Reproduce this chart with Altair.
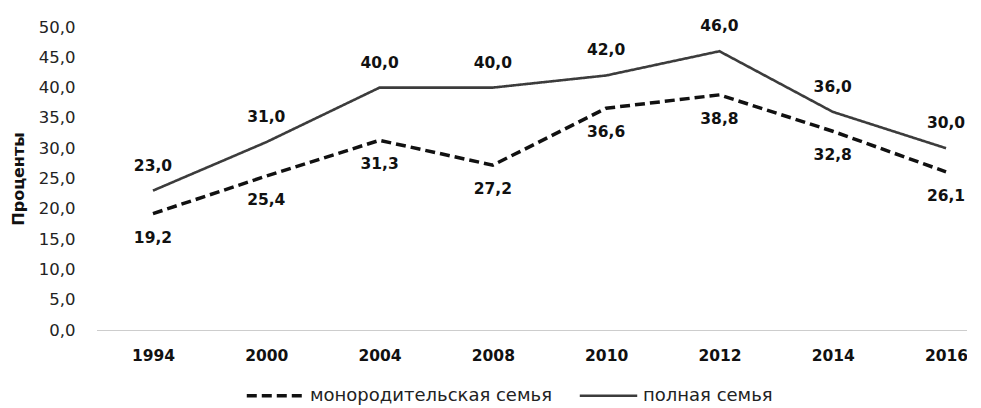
import altair as alt
import pandas as pd

years = ["1994", "2000", "2004", "2008", "2010", "2012", "2014", "2016"]
series_names = ["монородительская семья", "полная семья"]
single_parent = [19.2, 25.4, 31.3, 27.2, 36.6, 38.8, 32.8, 26.1]
full_family = [23.0, 31.0, 40.0, 40.0, 42.0, 46.0, 36.0, 30.0]

rows = []
for i, y in enumerate(years):
    rows.append({"idx": i, "year": y, "series": series_names[0], "value": single_parent[i]})
    rows.append({"idx": i, "year": y, "series": series_names[1], "value": full_family[i]})
df = pd.DataFrame(rows)

FONT = "DejaVu Sans"
year_arr = "[" + ",".join("'" + y + "'" for y in years) + "]"

x_enc = alt.X(
    "idx:Q",
    scale=alt.Scale(domain=[-0.494, 7.185], nice=False, zero=False),
    axis=alt.Axis(
        values=list(range(len(years))),
        labelExpr=year_arr + "[datum.value]",
        title=None,
        grid=False,
        ticks=False,
        domain=True,
        domainColor="#9a9a9a",
        domainDash=[1, 1],
        domainWidth=1,
        labelFont=FONT,
        labelFontSize=15.5,
        labelFontWeight="bold",
        labelColor="#111111",
        labelPadding=18,
    ),
)
y_enc = alt.Y(
    "value:Q",
    scale=alt.Scale(domain=[0, 50], nice=False),
    axis=alt.Axis(
        values=list(range(0, 51, 5)),
        labelExpr="replace(format(datum.value, '.1f'), '.', ',')",
        labelOverlap=False,
        labelBound=False,
        title="Проценты",
        titleFont=FONT,
        titleFontSize=16,
        titleFontWeight="bold",
        titleColor="#111111",
        titlePadding=12,
        grid=False,
        ticks=False,
        domain=False,
        labelFont=FONT,
        labelFontSize=16.5,
        labelColor="#222222",
        labelPadding=22,
    ),
)

base = alt.Chart(df)

lines = base.mark_line(strokeCap="butt", strokeJoin="miter").encode(
    x=x_enc,
    y=y_enc,
    color=alt.Color(
        "series:N",
        scale=alt.Scale(domain=series_names, range=["#111111", "#3c3c3c"]),
        legend=alt.Legend(title=None),
    ),
    strokeDash=alt.StrokeDash(
        "series:N",
        scale=alt.Scale(domain=series_names, range=[[10, 5], [1, 0]]),
        legend=alt.Legend(title=None),
    ),
    strokeWidth=alt.StrokeWidth(
        "series:N",
        scale=alt.Scale(domain=series_names, range=[3.5, 2.6]),
        legend=None,
    ),
)

label_base = base.transform_calculate(
    lbl="replace(format(datum.value, '.1f'), '.', ',')"
)

labels_full = label_base.transform_filter(
    alt.datum.series == series_names[1]
).mark_text(
    font=FONT, fontSize=15.5, fontWeight="bold", color="#111111",
    baseline="middle", align="center", dy=-25,
).encode(x=x_enc, y=y_enc, text="lbl:N")

labels_single = label_base.transform_filter(
    alt.datum.series == series_names[0]
).mark_text(
    font=FONT, fontSize=15.5, fontWeight="bold", color="#111111",
    baseline="middle", align="center", dy=24,
).encode(x=x_enc, y=y_enc, text="lbl:N")

chart = alt.layer(lines, labels_full, labels_single).properties(
    width=870,
    height=303,
    autosize=alt.AutoSizeParams(type="none"),
    padding={"left": 89, "top": 19, "right": 0, "bottom": 77},
).configure_view(
    stroke=None
).configure_legend(
    orient="none",
    legendX=148,
    legendY=338,
    direction="horizontal",
    symbolType="stroke",
    symbolSize=3300,
    symbolStrokeWidth=3.5,
    labelFont=FONT,
    labelFontSize=18,
    labelLimit=0,
    labelColor="#222222",
    labelOffset=4,
    columnPadding=22,
)

chart.save("out.html", embed_options={"renderer": "svg", "actions": False})
